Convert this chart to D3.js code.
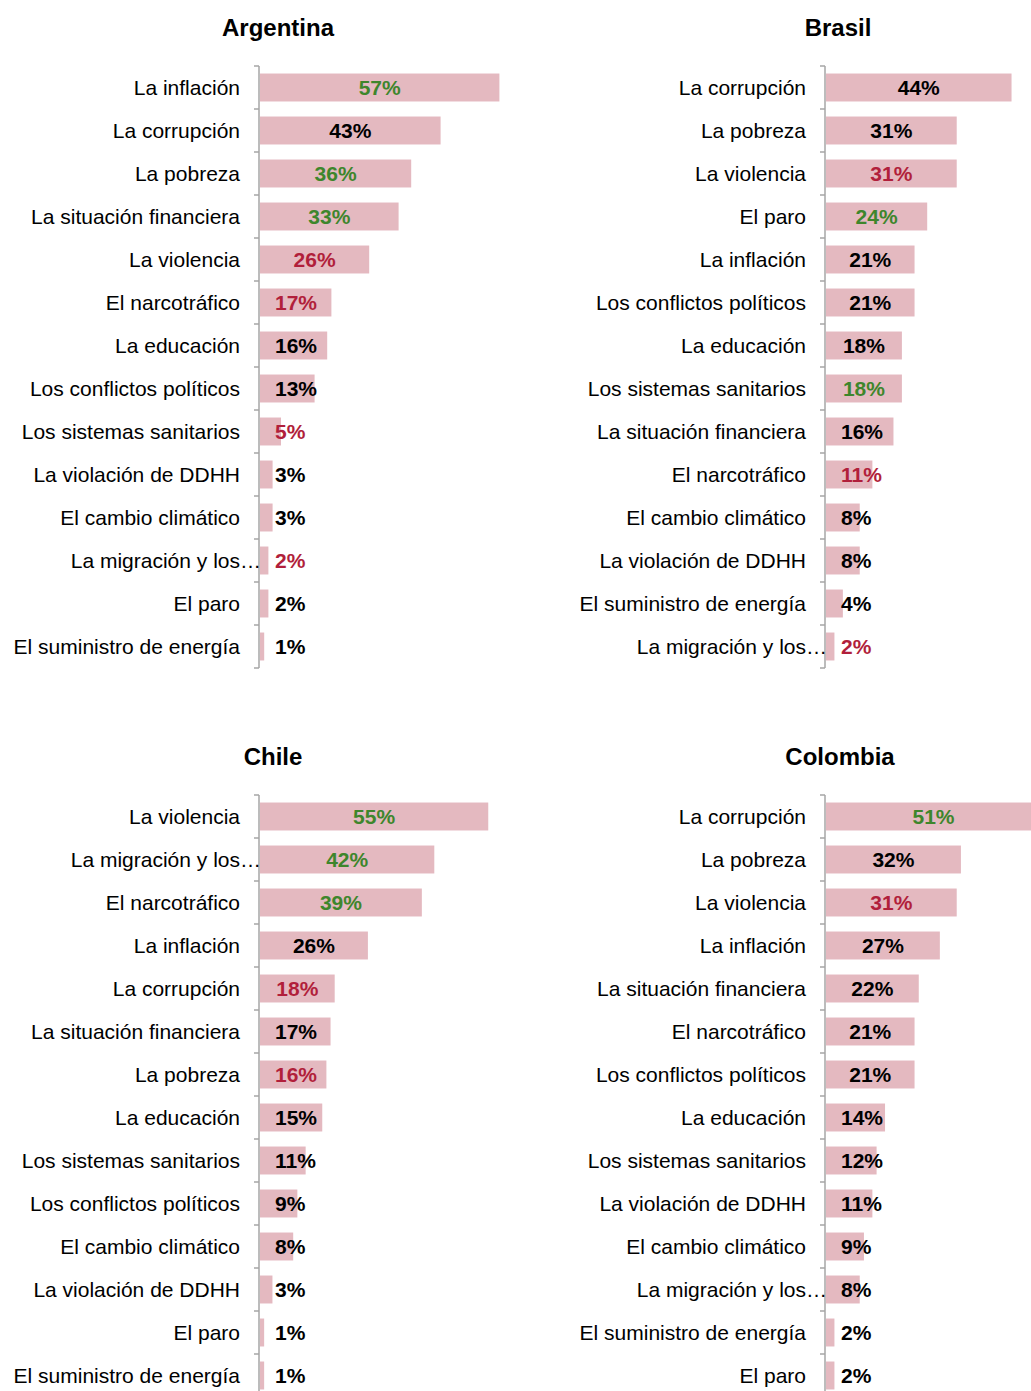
<!DOCTYPE html>
<html lang="es">
<head>
<meta charset="utf-8">
<script src="https://cdn.jsdelivr.net/npm/d3@7"></script>
<style>
  html, body { margin: 0; padding: 0; background: #fff; }
  svg { display: block; font-family: "Liberation Sans", Arial, Helvetica, sans-serif; }
</style>
</head>
<body>
<svg id="chart" width="1031" height="1391"></svg>
<script>
// Principales preocupaciones por país (% de menciones).
// trend: "up" = sube, "down" = baja, "same" = sin cambio relevante.

const argentinaCategories = ["La inflación", "La corrupción", "La pobreza", "La situación financiera",
  "La violencia", "El narcotráfico", "La educación", "Los conflictos políticos",
  "Los sistemas sanitarios", "La violación de DDHH", "El cambio climático",
  "La migración y los…", "El paro", "El suministro de energía"];
const argentinaValues = [57, 43, 36, 33, 26, 17, 16, 13, 5, 3, 3, 2, 2, 1];
const argentinaTrend = ["up", "same", "up", "up", "down", "down", "same", "same",
  "down", "same", "same", "down", "same", "same"];

const brasilCategories = ["La corrupción", "La pobreza", "La violencia", "El paro",
  "La inflación", "Los conflictos políticos", "La educación", "Los sistemas sanitarios",
  "La situación financiera", "El narcotráfico", "El cambio climático",
  "La violación de DDHH", "El suministro de energía", "La migración y los…"];
const brasilValues = [44, 31, 31, 24, 21, 21, 18, 18, 16, 11, 8, 8, 4, 2];
const brasilTrend = ["same", "same", "down", "up", "same", "same", "same", "up",
  "same", "down", "same", "same", "same", "down"];

const chileCategories = ["La violencia", "La migración y los…", "El narcotráfico", "La inflación",
  "La corrupción", "La situación financiera", "La pobreza", "La educación",
  "Los sistemas sanitarios", "Los conflictos políticos", "El cambio climático",
  "La violación de DDHH", "El paro", "El suministro de energía"];
const chileValues = [55, 42, 39, 26, 18, 17, 16, 15, 11, 9, 8, 3, 1, 1];
const chileTrend = ["up", "up", "up", "same", "down", "same", "down", "same",
  "same", "same", "same", "same", "same", "same"];

const colombiaCategories = ["La corrupción", "La pobreza", "La violencia", "La inflación",
  "La situación financiera", "El narcotráfico", "Los conflictos políticos", "La educación",
  "Los sistemas sanitarios", "La violación de DDHH", "El cambio climático",
  "La migración y los…", "El suministro de energía", "El paro"];
const colombiaValues = [51, 32, 31, 27, 22, 21, 21, 14, 12, 11, 9, 8, 2, 2];
const colombiaTrend = ["up", "same", "down", "same", "same", "same", "same", "same",
  "same", "same", "same", "same", "same", "same"];

const countries = ["Argentina", "Brasil", "Chile", "Colombia"];

// Panel layout (pixels)
const panels = [
  { title: countries[0], cats: argentinaCategories, vals: argentinaValues, trend: argentinaTrend,
    axisX: 259, top: 66, titleX: 278, titleY: 36, width: 252 },
  { title: countries[1], cats: brasilCategories, vals: brasilValues, trend: brasilTrend,
    axisX: 825, top: 66, titleX: 838, titleY: 36, width: 253 },
  { title: countries[2], cats: chileCategories, vals: chileValues, trend: chileTrend,
    axisX: 259, top: 795, titleX: 273, titleY: 765, width: 249 },
  { title: countries[3], cats: colombiaCategories, vals: colombiaValues, trend: colombiaTrend,
    axisX: 825, top: 795, titleX: 840, titleY: 765, width: 253 }
];

const BAND = 43;
const BAR_FILL = "#e4b9c0";
const AXIS_COLOR = "#a6a6a6";
const trendColor = { up: "#3e862c", down: "#b11f3b", same: "#000000" };

const svg = d3.select("#chart");

panels.forEach(p => {
  const data = p.cats.map((c, i) => ({ cat: c, key: i + "|" + c, value: p.vals[i], trend: p.trend[i] }));
  const g = svg.append("g");

  const y = d3.scaleBand()
    .domain(data.map(d => d.key))
    .range([p.top, p.top + BAND * data.length])
    .paddingInner(0.35)
    .paddingOuter(0.175);

  const x = d3.scaleLinear().domain([0, 60]).range([p.axisX + 1, p.axisX + 1 + p.width]);

  // Title
  g.append("text")
    .attr("x", p.titleX).attr("y", p.titleY)
    .attr("text-anchor", "middle")
    .style("font-size", "24px").style("font-weight", "bold")
    .text(p.title);

  // Bars
  g.selectAll("rect.bar").data(data).join("rect")
    .attr("class", "bar")
    .attr("x", x(0))
    .attr("y", d => y(d.key))
    .attr("width", d => x(d.value) - x(0))
    .attr("height", y.bandwidth())
    .attr("fill", BAR_FILL);

  // Category axis: vertical line with ticks at band boundaries
  const y0 = p.top, y1 = p.top + BAND * data.length;
  g.append("line")
    .attr("x1", p.axisX).attr("x2", p.axisX)
    .attr("y1", y0).attr("y2", y1)
    .attr("stroke", AXIS_COLOR).attr("stroke-width", 1.5);
  const edges = d3.range(data.length + 1).map(i => y0 + i * BAND);
  g.selectAll("line.tick").data(edges).join("line")
    .attr("class", "tick")
    .attr("x1", p.axisX - 5).attr("x2", p.axisX)
    .attr("y1", d => d).attr("y2", d => d)
    .attr("stroke", AXIS_COLOR).attr("stroke-width", 1.5);

  // Category labels (truncated names keep the ellipsis past the label edge)
  const labelX = p.axisX - 19;
  data.forEach(d => {
    const cy = y(d.key) + y.bandwidth() / 2;
    const truncated = d.cat.endsWith("…");
    const base = truncated ? d.cat.slice(0, -1) : d.cat;
    g.append("text")
      .attr("x", labelX).attr("y", cy)
      .attr("dy", "0.35em")
      .attr("text-anchor", "end")
      .style("font-size", "21px")
      .text(base);
    if (truncated) {
      g.append("text")
        .attr("x", labelX).attr("y", cy)
        .attr("dy", "0.35em")
        .style("font-size", "21px")
        .text("…");
    }
  });

  // Value labels: centred in the bar, but never closer than 16px to the axis
  g.selectAll("text.val").data(data).join("text")
    .attr("class", "val")
    .attr("y", d => y(d.key) + y.bandwidth() / 2)
    .attr("dy", "0.37em")
    .attr("text-anchor", "middle")
    .style("font-size", "21px").style("font-weight", "bold")
    .attr("fill", d => trendColor[d.trend])
    .text(d => d.value + "%")
    .attr("x", function(d) {
      const w = this.getComputedTextLength();
      const centre = (x(0) + x(d.value)) / 2;
      return Math.max(centre, p.axisX + 16 + w / 2);
    });
});
</script>
</body>
</html>
